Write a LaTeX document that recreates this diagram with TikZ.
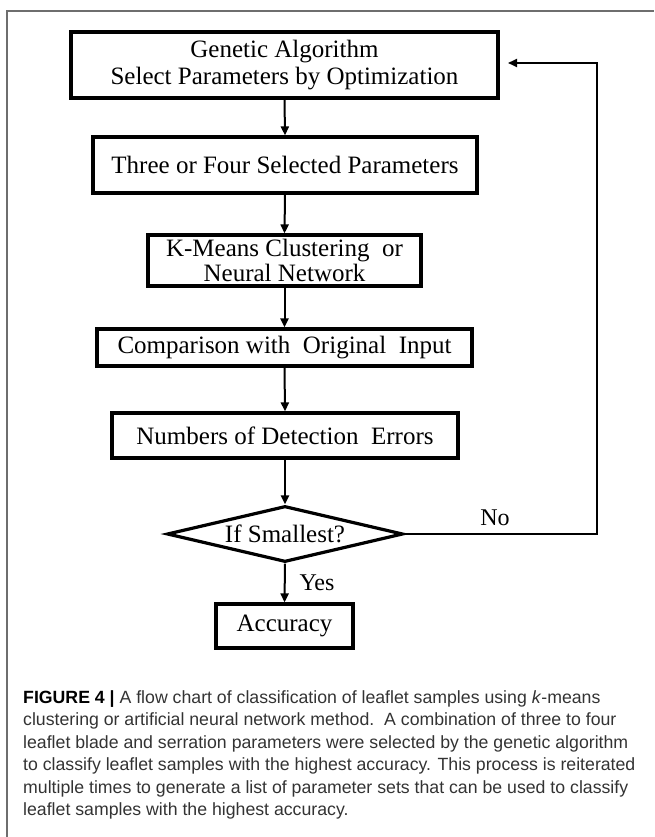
\documentclass[tikz,border=0pt]{standalone}
\usepackage{fontspec}
\setmainfont{Liberation Serif}
\newfontfamily\capfont{Liberation Sans}
\usetikzlibrary{shapes.geometric,arrows.meta}
\definecolor{framegray}{HTML}{6E6E6E}
\definecolor{captext}{HTML}{333333}
\tikzset{
  fbox/.style={draw=black, line width=3.2pt, inner sep=0pt, font=\fontsize{25}{27}\selectfont, align=center},
  conn/.style={line width=2pt, -{Triangle[length=9pt,width=8pt]}},
  lbl/.style={font=\fontsize{24}{27}\selectfont, inner sep=0pt}
}
\begin{document}
\begin{tikzpicture}[x=1pt,y=-1pt]
\useasboundingbox (0,0) rectangle (654,837);
% frame
\draw[framegray, line width=1.5pt] (7,837) -- (7,11) -- (654,11);
% nodes
\node[fbox, minimum width=427pt, minimum height=66pt] (ga) at (284.5,65) {Genetic Algorithm\\Select Parameters by Optimization};
\node[fbox, minimum width=384pt, minimum height=56pt] (sel) at (285,165) {Three or Four Selected Parameters};
\node[fbox, minimum width=273pt, minimum height=51pt, font=\fontsize{25}{25}\selectfont] (km) at (284.5,260.5) {K-Means Clustering\ \ or\\Neural Network};
\node[fbox, minimum width=375pt, minimum height=37pt] (cmp) at (284.5,347.5) {Comparison with\ \ Original\ \ Input};
\node[fbox, minimum width=346pt, minimum height=45pt] (num) at (285,435.5) {Numbers of Detection\ \ Errors};
\node[diamond, draw=black, line width=3.2pt, inner sep=0pt, minimum width=236pt, minimum height=56pt, aspect=4.2] (dec) at (285,534) {};
\node[font=\fontsize{25}{28}\selectfont, inner sep=0pt] (dect) at (285,534) {If Smallest?};
\node[fbox, minimum width=137pt, minimum height=44pt] (acc) at (284.5,626) {Accuracy};
% connectors
\draw[conn] (ga.south) -- (sel.north);
\draw[conn] (sel.south) -- (km.north);
\draw[conn] (km.south) -- (cmp.north);
\draw[conn] (cmp.south) -- (num.north);
\draw[conn] (num.south) -- (dec.north);
\draw[conn] (dec.south) -- (acc.north);
\coordinate (fbx) at (597,534);
\coordinate (fby) at (597,63);
\coordinate (ftip) at (508,63);
\draw[conn] (dec.east) -- (fbx) -- (fby) -- (ftip);
\node[lbl] (no) at (495,518) {No};
\node[lbl] (yes) at (317,583) {Yes};
% caption
\node[anchor=north west, inner sep=0pt, align=left, text=captext, font=\capfont\fontsize{17.7}{22.5}\selectfont] (cap) at (23,690) {%
\textbf{\color{black}FIGURE 4 |} A flow chart of classification of leaflet samples using \textit{k}-means\\
clustering or artificial neural network method.\ \ A combination of three to four\\
leaflet blade and serration parameters were selected by the genetic algorithm\\
to classify leaflet samples with the highest accuracy. This process is reiterated\\
multiple times to generate a list of parameter sets that can be used to classify\\
leaflet samples with the highest accuracy.};
\end{tikzpicture}
\end{document}
